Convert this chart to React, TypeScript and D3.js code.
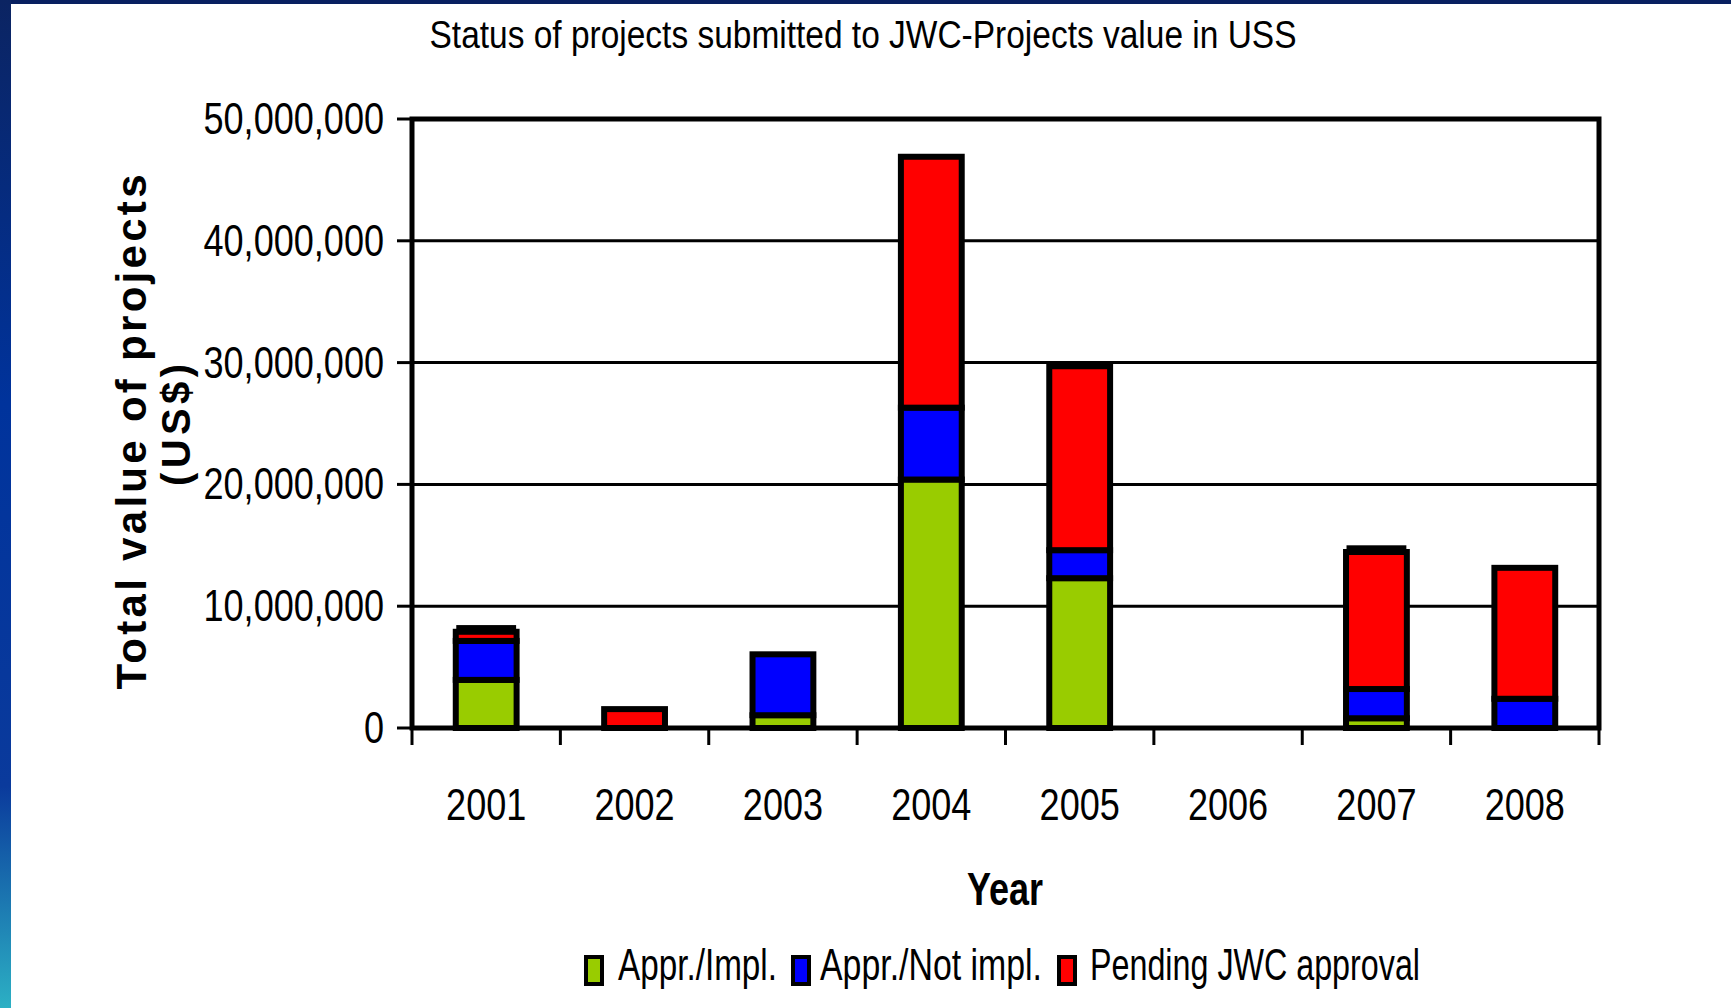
import React from "react";
import * as d3 from "d3";

const years = ["2001", "2002", "2003", "2004", "2005", "2006", "2007", "2008"];
const apprImpl = [3.95e6, 0, 1.05e6, 20.4e6, 12.3e6, 0, 0.8e6, 0];
const apprNotImpl = [3.2e6, 0, 5.0e6, 5.9e6, 2.3e6, 0, 2.4e6, 2.4e6];
const pendingJWC = [0.75e6, 1.55e6, 0, 20.6e6, 15.1e6, 0, 11.25e6, 10.75e6];
const otherCap = [0.55e6, 0, 0, 0, 0, 0, 0.55e6, 0];
const yTicks = [0, 10e6, 20e6, 30e6, 40e6, 50e6];
const seriesNames = ["Appr./Impl.", "Appr./Not impl.", "Pending JWC approval"];
const seriesColors = ["#99cc00", "#0000ff", "#ff0000"];

const W = 1731;
const H = 1008;
const FONT = "'Liberation Sans', Arial, Helvetica, sans-serif";

export default function App() {
  const left = 412, right = 1599, top = 119, bottom = 728;
  const x = d3.scaleBand<string>().domain(years).range([left, right]).padding(0);
  const y = d3.scaleLinear().domain([0, 50e6]).range([bottom, top]);
  const barW = x.bandwidth() * 0.41;

  const rows = years.map((yr, i) => ({
    year: yr,
    impl: apprImpl[i],
    notImpl: apprNotImpl[i],
    pending: pendingJWC[i],
    other: otherCap[i],
  }));
  const keys = ["impl", "notImpl", "pending", "other"];
  const stacked = d3.stack<any>().keys(keys)(rows);
  const fmt = d3.format(",");
  const sx = 0.82;

  return (
    <div style={{ position: "fixed", left: 0, top: 0, width: W, height: H, background: "#fff" }}>
      <svg width={W} height={H} style={{ display: "block" }}>
        <defs>
          <linearGradient id="edge" x1="0" y1="0" x2="0" y2="1">
            <stop offset="0" stopColor="#0b2462" />
            <stop offset="0.4" stopColor="#00339c" />
            <stop offset="0.78" stopColor="#0a3a9c" />
            <stop offset="1" stopColor="#2cb0c4" />
          </linearGradient>
        </defs>
        <rect x={0} y={0} width={W} height={H} fill="#fff" />
        <rect x={0} y={0} width={W} height={4} fill="#082060" />
        <rect x={0} y={0} width={11} height={H} fill="url(#edge)" />

        {/* title */}
        <text x={863} y={48} fontFamily={FONT} fontSize={38} textAnchor="middle" textLength={867} lengthAdjust="spacingAndGlyphs" fill="#000">
          Status of projects submitted to JWC-Projects value in USS
        </text>

        {/* gridlines */}
        {yTicks.filter((t) => t > 0 && t < 50e6).map((t) => (
          <line key={"g" + t} x1={left} x2={right} y1={y(t)} y2={y(t)} stroke="#000" strokeWidth={3} />
        ))}

        {/* bars */}
        {stacked.map((s, si) =>
          s.map((d, i) => {
            const v = d[1] - d[0];
            if (v <= 0) return null;
            const cx = (x(years[i]) as number) + x.bandwidth() / 2;
            if (keys[si] === "other") {
              return (
                <rect key={si + "-" + i} x={cx - barW / 2 + 0.5} width={barW - 1} y={y(d[1])} height={y(d[0]) - y(d[1])} fill="#000" />
              );
            }
            return (
              <rect key={si + "-" + i} x={cx - barW / 2} width={barW} y={y(d[1])} height={y(d[0]) - y(d[1])} fill={seriesColors[si]} stroke="#000" strokeWidth={6} />
            );
          })
        )}

        {/* frame */}
        <rect x={left} y={top} width={right - left} height={bottom - top} fill="none" stroke="#000" strokeWidth={5} />

        {/* y ticks */}
        {yTicks.map((t) => (
          <g key={"yt" + t}>
            <line x1={397} x2={left} y1={y(t)} y2={y(t)} stroke="#000" strokeWidth={3} />
            <text transform={`translate(384,${y(t) + 15}) scale(${sx},1)`} fontFamily={FONT} fontSize={44} textAnchor="end" fill="#000">
              {fmt(t)}
            </text>
          </g>
        ))}

        {/* x ticks */}
        {years.concat(["end"]).map((yr, i) => {
          const xx = left + i * x.step();
          return <line key={"xt" + i} x1={xx} x2={xx} y1={bottom} y2={745} stroke="#000" strokeWidth={3} />;
        })}
        {years.map((yr) => (
          <text key={"xl" + yr} transform={`translate(${(x(yr) as number) + x.bandwidth() / 2},820) scale(${sx},1)`} fontFamily={FONT} fontSize={44} textAnchor="middle" fill="#000">
            {yr}
          </text>
        ))}

        {/* axis titles */}
        <text x={1005} y={905} fontFamily={FONT} fontSize={46} fontWeight="bold" textAnchor="middle" textLength={76} lengthAdjust="spacingAndGlyphs" fill="#000">
          Year
        </text>
        <text transform="translate(146,432) rotate(-90)" fontFamily={FONT} fontSize={42} fontWeight="bold" textAnchor="middle" textLength={515} lengthAdjust="spacing" fill="#000">
          Total value of projects
        </text>
        <text transform="translate(190,425) rotate(-90)" fontFamily={FONT} fontSize={40} fontWeight="bold" textAnchor="middle" textLength={122} lengthAdjust="spacing" fill="#000">
          (US$)
        </text>

        {/* legend */}
        {seriesNames.map((name, i) => {
          const sxs = [586, 793, 1059][i];
          const tx = [618, 820, 1090][i];
          const tl = [159, 222, 330][i];
          return (
            <g key={"lg" + i}>
              <rect x={sxs} y={957} width={16} height={27} fill={seriesColors[i]} stroke="#000" strokeWidth={4} />
              <text x={tx} y={980} fontFamily={FONT} fontSize={44} textLength={tl} lengthAdjust="spacingAndGlyphs" fill="#000">
                {name}
              </text>
            </g>
          );
        })}
      </svg>
    </div>
  );
}
